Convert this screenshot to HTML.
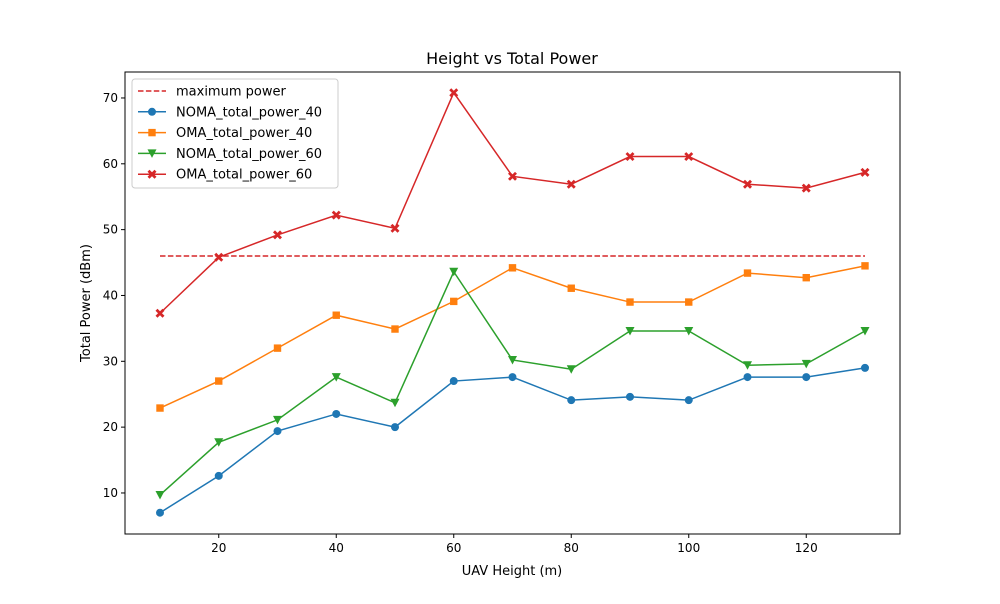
<!DOCTYPE html>
<html><head><meta charset="utf-8"><style>
body{margin:0;background:#fff;font-family:"DejaVu Sans","Liberation Sans",sans-serif}
svg text{font-family:"DejaVu Sans","Liberation Sans",sans-serif}
</style></head><body>
<svg id="chart" width="1000" height="600" xmlns="http://www.w3.org/2000/svg"></svg>
<script>
const heights=[10,20,30,40,50,60,70,80,90,100,110,120,130];
const noma40=[7.0,12.6,19.4,22.0,20.0,27.0,27.6,24.1,24.6,24.1,27.6,27.6,29.0];
const oma40=[22.9,27.0,32.0,37.0,34.9,39.1,44.2,41.1,39.0,39.0,43.4,42.7,44.5];
const noma60=[9.7,17.7,21.1,27.6,23.7,43.6,30.2,28.8,34.6,34.6,29.4,29.6,34.6];
const oma60=[37.3,45.8,49.2,52.2,50.2,70.8,58.1,56.9,61.1,61.1,56.9,56.3,58.7];
const maxPower=46.0;
const xTicks=[20,40,60,80,100,120];
const yTicks=[10,20,30,40,50,60,70];

const NS="http://www.w3.org/2000/svg";
const svg=document.getElementById('chart');
const L=125,R=900,T=72,B=534;
const xs=v=>160+(v-10)*705/120;
const ys=v=>558.8-v*395/60;
function el(tag,attrs,parent){const e=document.createElementNS(NS,tag);for(const k in attrs)e.setAttribute(k,attrs[k]);(parent||svg).appendChild(e);return e;}

const title=el('text',{x:512,y:64,'text-anchor':'middle','font-size':16});title.textContent='Height vs Total Power';



xTicks.forEach(t=>{
  const g=el('g',{});
  
  
  el('line',{x1:xs(t),x2:xs(t),y1:B,y2:B+4,stroke:'#000'},g);
  const tx=el('text',{x:xs(t),y:B+18,'text-anchor':'middle','font-size':12},g);tx.textContent=t;
});
yTicks.forEach(t=>{
  const g=el('g',{});
  
  
  el('line',{x1:L-4,x2:L,y1:ys(t),y2:ys(t),stroke:'#000'},g);
  const tx=el('text',{x:L-7,y:ys(t)+4,'text-anchor':'end','font-size':12},g);tx.textContent=t;
});
const xl=el('text',{x:512,y:575,'text-anchor':'middle','font-size':13});xl.textContent='UAV Height (m)';


const yl=el('text',{x:90,y:303,'text-anchor':'middle','font-size':13,transform:'rotate(-90 90 303)'});yl.textContent='Total Power (dBm)';



const mp=el('line',{x1:xs(heights[0]),x2:xs(heights[heights.length-1]),y1:ys(maxPower),y2:ys(maxPower),stroke:'#d62728','stroke-width':1.5,'stroke-dasharray':'5.5,2.4'});



function marker(type,x,y,c,parent){
  if(type==='o')return el('circle',{cx:x,cy:y,r:4,fill:c},parent);
  if(type==='s')return el('rect',{x:x-3.7,y:y-3.7,width:7.4,height:7.4,fill:c},parent);
  if(type==='v')return el('polygon',{points:`${x-4.5},${y-4} ${x+4.5},${y-4} ${x},${y+4.5}`,fill:c},parent);
  return el('path',{d:`M${x-3.5},${y-3.5}L${x+3.5},${y+3.5}M${x+3.5},${y-3.5}L${x-3.5},${y+3.5}`,stroke:c,'stroke-width':2.8},parent);
}
const series=[['noma-40',noma40,'#1f77b4','o'],['oma-40',oma40,'#ff7f0e','s'],['noma-60',noma60,'#2ca02c','v'],['oma-60',oma60,'#d62728','x']];
series.forEach(([n,d,c,m])=>{
  const g=el('g',{});
  
  
  el('polyline',{points:d.map((v,i)=>xs(heights[i])+','+ys(v)).join(' '),fill:'none',stroke:c,'stroke-width':1.5},g);
  d.forEach((v,i)=>{const p=marker(m,xs(heights[i]),ys(v),c,g);
    
    });
});
const frame=el('rect',{x:L,y:T,width:R-L,height:B-T,fill:'none',stroke:'#000','stroke-width':1});



const lg=el('g',{});


el('rect',{x:132,y:79,width:206,height:109,rx:3,fill:'#fff',stroke:'#ccc'},lg);
const entries=[['maximum power','#d62728',null],['NOMA_total_power_40','#1f77b4','o'],['OMA_total_power_40','#ff7f0e','s'],['NOMA_total_power_60','#2ca02c','v'],['OMA_total_power_60','#d62728','x']];
entries.forEach(([t,c,m],i)=>{
  const y=91+i*20.8;
  const g=el('g',{},lg);
  
  
  if(m){el('line',{x1:138,x2:166,y1:y,y2:y,stroke:c,'stroke-width':1.5},g);marker(m,152,y,c,g);}
  else el('line',{x1:138,x2:166,y1:y,y2:y,stroke:c,'stroke-width':1.5,'stroke-dasharray':'5.5,2.4'},g);
  const tx=el('text',{x:176,y:y+4.5,'font-size':13},g);tx.textContent=t;
});
</script>
</body></html>
